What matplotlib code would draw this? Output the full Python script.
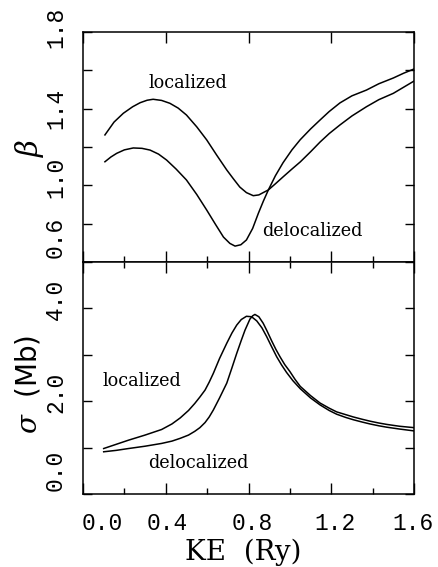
import matplotlib
matplotlib.use("Agg")
import matplotlib.pyplot as plt
from matplotlib.transforms import ScaledTranslation

# ---------------- data ----------------
# beta, localized
ke_beta_loc = [0.106, 0.15, 0.195, 0.24, 0.276, 0.31, 0.339, 0.38, 0.42, 0.46,
               0.50, 0.55, 0.598, 0.646, 0.695, 0.727, 0.758, 0.79, 0.823, 0.85,
               0.871, 0.896, 0.93, 0.967, 1.01, 1.05, 1.10, 1.146, 1.19, 1.242,
               1.30, 1.37, 1.43, 1.50, 1.55, 1.60]
beta_loc = [1.263, 1.330, 1.376, 1.410, 1.431, 1.444, 1.449, 1.443, 1.428, 1.403,
            1.367, 1.305, 1.237, 1.158, 1.080, 1.034, 0.991, 0.962, 0.946, 0.950,
            0.962, 0.976, 1.008, 1.044, 1.085, 1.122, 1.175, 1.226, 1.270, 1.315,
            1.362, 1.410, 1.447, 1.480, 1.512, 1.544]
# beta, delocalized
ke_beta_deloc = [0.106, 0.135, 0.163, 0.20, 0.243, 0.285, 0.324, 0.365, 0.404, 0.45,
                 0.50, 0.55, 0.598, 0.64, 0.679, 0.71, 0.735, 0.763, 0.79, 0.82,
                 0.848, 0.872, 0.896, 0.93, 0.967, 1.01, 1.05, 1.10, 1.146, 1.19,
                 1.242, 1.30, 1.37, 1.43, 1.50, 1.55, 1.60]
beta_deloc = [1.123, 1.148, 1.167, 1.185, 1.195, 1.193, 1.184, 1.163, 1.132, 1.085,
              1.028, 0.952, 0.871, 0.797, 0.730, 0.697, 0.683, 0.690, 0.715, 0.775,
              0.855, 0.918, 0.976, 1.050, 1.118, 1.185, 1.238, 1.294, 1.341, 1.385,
              1.430, 1.467, 1.497, 1.530, 1.560, 1.585, 1.607]
# sigma, localized
ke_sig_loc = [0.10, 0.16, 0.22, 0.30, 0.38, 0.43, 0.47, 0.51, 0.54, 0.565, 0.59,
              0.61, 0.63, 0.66, 0.695, 0.72, 0.743, 0.765, 0.79, 0.815, 0.84,
              0.865, 0.888, 0.91, 0.936, 0.96, 0.984, 1.015, 1.05, 1.10, 1.146,
              1.19, 1.226, 1.27, 1.307, 1.35, 1.387, 1.43, 1.468, 1.53, 1.60]
sig_loc = [0.98, 1.07, 1.16, 1.27, 1.39, 1.51, 1.64, 1.80, 1.95, 2.09, 2.24,
           2.41, 2.60, 2.92, 3.25, 3.47, 3.64, 3.76, 3.83, 3.82, 3.73,
           3.58, 3.39, 3.19, 2.96, 2.78, 2.62, 2.44, 2.27, 2.07, 1.92,
           1.80, 1.72, 1.65, 1.60, 1.55, 1.51, 1.47, 1.44, 1.40, 1.36]
# sigma, delocalized
ke_sig_deloc = [0.10, 0.16, 0.22, 0.30, 0.38, 0.43, 0.47, 0.51, 0.54, 0.565, 0.59,
                0.61, 0.63, 0.66, 0.695, 0.72, 0.743, 0.765, 0.783, 0.807, 0.82,
                0.831, 0.85, 0.871, 0.89, 0.912, 0.932, 0.952, 0.975, 1.0, 1.025,
                1.05, 1.10, 1.146, 1.19, 1.226, 1.27, 1.307, 1.35, 1.387, 1.43,
                1.468, 1.53, 1.60]
sig_deloc = [0.91, 0.94, 0.98, 1.03, 1.09, 1.14, 1.20, 1.27, 1.35, 1.43, 1.54,
             1.66, 1.81, 2.07, 2.39, 2.72, 3.03, 3.31, 3.53, 3.77, 3.84,
             3.87, 3.82, 3.68, 3.51, 3.30, 3.12, 2.96, 2.79, 2.64, 2.47,
             2.32, 2.12, 1.96, 1.85, 1.77, 1.71, 1.66, 1.61, 1.57, 1.53,
             1.50, 1.46, 1.43]

x_ticks_major = [0.0, 0.4, 0.8, 1.2, 1.6]
x_ticks_minor = [0.2, 0.6, 1.0, 1.4]
x_ticklabels = ["0.0", "0.4", "0.8", "1.2", "1.6"]
beta_ticks = [0.6, 0.8, 1.0, 1.2, 1.4, 1.6, 1.8]
beta_ticklabels = ["0.6", "", "1.0", "", "1.4", "", "1.8"]
sig_ticks = [0, 1, 2, 3, 4, 5]
sig_ticklabels = ["0.0", "", "2.0", "", "4.0", ""]

# ---------------- style ----------------
W, H = 438, 567
DPI = 100
plt.rcParams["mathtext.fontset"] = "dejavuserif"
fig = plt.figure(figsize=(W / DPI, H / DPI), dpi=DPI)

L, R = 83 / W, 414 / W
y_top, y_mid, y_bot = 1 - 32 / H, 1 - 262 / H, 1 - 494 / H
ax1 = fig.add_axes([L, y_mid, R - L, y_top - y_mid])
ax2 = fig.add_axes([L, y_bot, R - L, y_mid - y_bot])

lw = 1.1
tick_font = dict(family="Liberation Mono", size=16.5)
for ax in (ax1, ax2):
    for s in ax.spines.values():
        s.set_linewidth(1.1)
    ax.set_xlim(0, 1.6)
    ax.set_xticks(x_ticks_major)
    ax.set_xticks(x_ticks_minor, minor=True)
    ax.tick_params(axis="both", which="both", direction="in", width=1.0,
                   left=True, right=True, bottom=True, top=True)
    ax.tick_params(axis="x", which="major", length=8)
    ax.tick_params(axis="x", which="minor", length=4.3)
    ax.tick_params(axis="y", which="major", length=6.5, pad=11.5)

ax1.tick_params(axis="x", which="minor", top=False)

# top panel
ax1.plot(ke_beta_loc, beta_loc, color="black", lw=lw)
ax1.plot(ke_beta_deloc, beta_deloc, color="black", lw=lw)
ax1.set_ylim(0.6, 1.8)
ax1.set_yticks(beta_ticks)
ax1.set_yticklabels(beta_ticklabels, rotation=90, va="center", **tick_font)
ax1.set_xticklabels([])
ax1.text(0.317, 0.778, "localized", transform=ax1.transAxes, ha="center",
         va="center", family="DejaVu Serif", size=12.7)
ax1.text(0.692, 0.135, "delocalized", transform=ax1.transAxes, ha="center",
         va="center", family="DejaVu Serif", size=12.7)

# bottom panel
ax2.plot(ke_sig_loc, sig_loc, color="black", lw=lw)
ax2.plot(ke_sig_deloc, sig_deloc, color="black", lw=lw)
ax2.set_ylim(0, 5)
ax2.set_yticks(sig_ticks)
ax2.set_yticklabels(sig_ticklabels, rotation=90, va="center", **tick_font)
ax2.set_xticklabels(x_ticklabels, **tick_font)
ax2.tick_params(axis="x", which="major", pad=13)
ax2.text(0.178, 0.487, "localized", transform=ax2.transAxes, ha="center",
         va="center", family="DejaVu Serif", size=12.7)
ax2.text(0.347, 0.134, "delocalized", transform=ax2.transAxes, ha="center",
         va="center", family="DejaVu Serif", size=12.7)

# label nudges (pixels) to mimic the original typesetting
def nudge(labels, shifts, vertical):
    for lab, d in zip(labels, shifts):
        dx, dy = (0, d) if vertical else (d, 0)
        lab.set_transform(lab.get_transform() +
                          ScaledTranslation(dx / DPI, dy / DPI, fig.dpi_scale_trans))

nudge(ax1.get_yticklabels(), [25, 0, 8, 0, 0, 0, 5], True)
nudge(ax2.get_yticklabels(), [24, 0, 9, 0, 9, 0], True)
nudge(ax2.get_xticklabels(), [19, 2, 4, 4, -1], False)

# axis labels
fig.text(243 / W, 1 - 552 / H, "KE  (Ry)", ha="center", va="center",
         family="DejaVu Serif", size=20)
fig.text(30 / W, 1 - 148 / H, r"$\beta$", ha="center", va="center",
         rotation=90, size=21)
fig.text(28 / W, 1 - 384 / H, r"$\sigma$  (Mb)", ha="center", va="center",
         rotation=90, size=20)

fig.savefig("out.png", dpi=DPI)
